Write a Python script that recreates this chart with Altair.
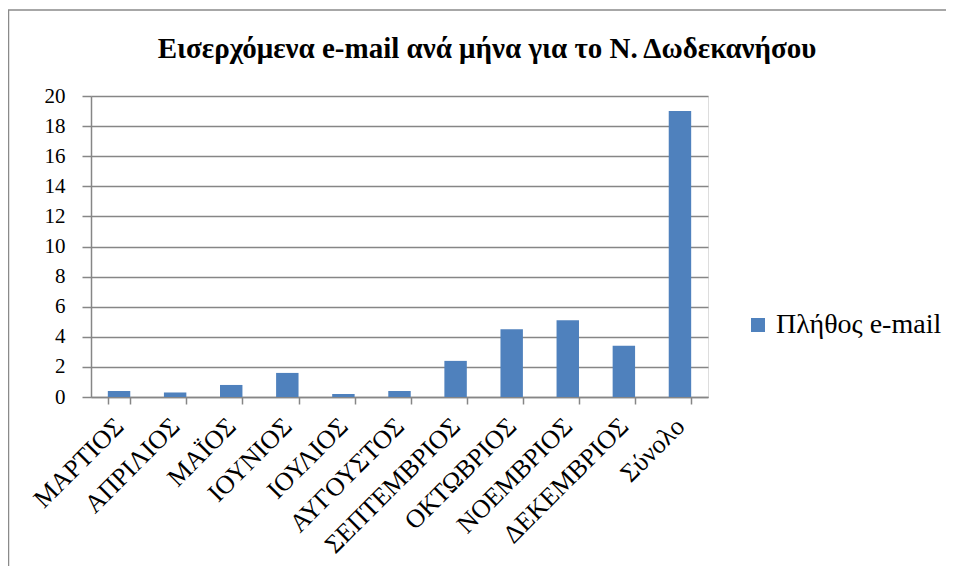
import altair as alt
import pandas as pd

months = ["ΜΑΡΤΙΟΣ", "ΑΠΡΙΛΙΟΣ", "ΜΑΪΟΣ", "ΙΟΥΝΙΟΣ", "ΙΟΥΛΙΟΣ", "ΑΥΓΟΥΣΤΟΣ",
          "ΣΕΠΤΕΜΒΡΙΟΣ", "ΟΚΤΩΒΡΙΟΣ", "ΝΟΕΜΒΡΙΟΣ", "ΔΕΚΕΜΒΡΙΟΣ", "Σύνολο"]
values = [0.4, 0.3, 0.8, 1.6, 0.2, 0.4, 2.4, 4.5, 5.1, 3.4, 19.0]
series_name = "Πλήθος e-mail"
y_ticks = [0, 2, 4, 6, 8, 10, 12, 14, 16, 18, 20]
title_text = "Εισερχόμενα e-mail ανά μήνα για το Ν. Δωδεκανήσου"

df = pd.DataFrame({"month": months, "value": values, "series": [series_name] * len(months)})

FONT = "Liberation Serif"
GRAY = "#868686"

bars = alt.Chart(df).mark_bar(color="#4F81BD").encode(
    x=alt.X("month:N", sort=months,
            scale=alt.Scale(paddingInner=0.6, paddingOuter=0.3),
            axis=alt.Axis(title=None, labelAngle=-45, labelAlign="right", labelBaseline="middle",
                          labelFont=FONT, labelFontSize=26, labelColor="black",
                          tickBand="extent", tickSize=7, tickColor=GRAY, tickWidth=1.5,
                          domainColor=GRAY, domainWidth=1.5, labelPadding=18, grid=False,
                          labelLimit=400)),
    y=alt.Y("value:Q", scale=alt.Scale(domain=[0, 20], nice=False),
            axis=alt.Axis(title=None, values=y_ticks, labelFont=FONT, labelFontSize=21,
                          labelColor="black", tickSize=9, tickColor=GRAY, tickWidth=1.5,
                          domainColor=GRAY, domainWidth=1.5, labelPadding=17,
                          grid=True, gridColor=GRAY, gridWidth=1.5)),
    color=alt.Color("series:N", scale=alt.Scale(range=["#4F81BD"]),
                    legend=alt.Legend(title=None, orient="none", legendX=653, legendY=215,
                                      symbolType="square", symbolSize=196, symbolStrokeWidth=0,
                                      labelFont=FONT, labelFontSize=28, labelColor="black",
                                      labelOffset=4, labelLimit=400)),
)

border_df = pd.DataFrame({"k": [0]})
border_left = alt.Chart(border_df).mark_rule(color="#8a8a8a", strokeWidth=1.5).encode(
    x=alt.value(-82.5), y=alt.value(-86), y2=alt.value(470))
border_top = alt.Chart(border_df).mark_rule(color="#8a8a8a", strokeWidth=1.5).encode(
    x=alt.value(-83), x2=alt.value(860), y=alt.value(-86))

title_df = pd.DataFrame({"t": [title_text]})
title = alt.Chart(title_df).mark_text(
    font=FONT, fontSize=29, fontWeight="bold", color="black",
    align="center", baseline="alphabetic"
).encode(text="t:N", x=alt.value(396), y=alt.value(-38))

chart = alt.layer(border_left, border_top, title, bars).properties(
    width=617, height=301,
    autosize=alt.AutoSizeParams(type="none"),
    padding={"left": 83, "top": 88, "right": 238, "bottom": 176},
).configure_view(stroke=None).configure(background="white")

chart.save("out.html", embed_options={"renderer": "svg", "actions": False})
